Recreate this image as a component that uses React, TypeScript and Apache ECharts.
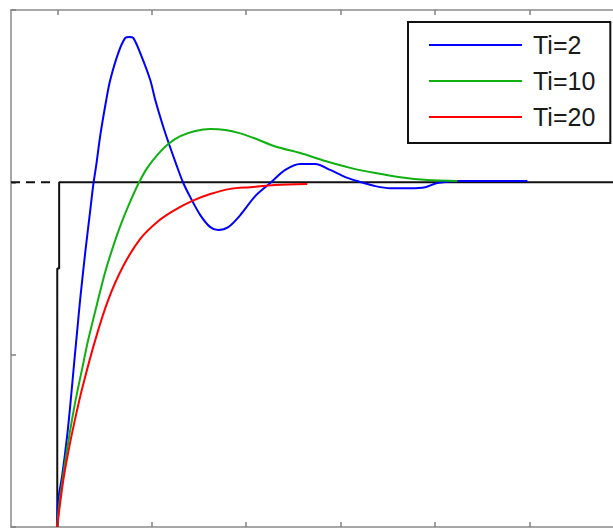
import React, { useEffect, useRef } from "react";
import * as echarts from "echarts";

// Time axis ticks (labels are outside the crop)
const xTicks = [0, 10, 20, 30, 40, 50, 60];
const yTicks = [0, 0.5, 1, 1.5];

// Ti = 2
const tBlue = [0, 0.106, 0.53, 1.06, 1.48, 1.8, 2.12, 2.44, 2.97, 3.5, 3.81, 4.13, 4.56, 5.19, 5.61, 6.46, 7.2, 7.63, 8.05, 8.79, 9.85, 10.38, 11.44, 12.71, 13.35, 14.09, 15.15, 16.21, 17.06, 18.11, 19.39, 20.97, 22.56, 24.15, 25.74, 27.33, 28.92, 30.51, 32.1, 33.69, 35.28, 37.39, 38.98, 40.25, 42.7, 49.8];
const yBlue = [0, 0.078, 0.151, 0.267, 0.383, 0.479, 0.572, 0.664, 0.798, 0.92, 0.992, 1.05, 1.137, 1.239, 1.297, 1.375, 1.419, 1.422, 1.419, 1.375, 1.297, 1.239, 1.143, 1.044, 0.998, 0.957, 0.905, 0.87, 0.862, 0.87, 0.905, 0.96, 0.998, 1.036, 1.053, 1.053, 1.036, 1.015, 1.001, 0.989, 0.983, 0.983, 0.986, 0.998, 1.004, 1.004];

// Ti = 10
const tGreen = [0, 0.21, 0.53, 1.06, 1.59, 2.12, 2.65, 3.28, 4.24, 5.08, 5.93, 6.67, 7.52, 8.58, 9.53, 10.59, 11.76, 13.03, 14.62, 16.21, 17.8, 19.39, 20.97, 23.1, 25.74, 28.39, 31.04, 33.69, 36.33, 39.19, 42.37];
const yGreen = [0, 0.064, 0.131, 0.229, 0.316, 0.392, 0.461, 0.543, 0.65, 0.74, 0.815, 0.873, 0.931, 0.995, 1.042, 1.079, 1.111, 1.134, 1.149, 1.155, 1.152, 1.142, 1.127, 1.104, 1.085, 1.062, 1.042, 1.027, 1.015, 1.007, 1.004];

// Ti = 20
const tRed = [0, 0.21, 0.64, 1.17, 1.8, 2.65, 4.03, 5.4, 6.99, 8.79, 10.59, 12.29, 14.3, 16.21, 18.33, 20.44, 23.09, 26.48];
const yRed = [0, 0.049, 0.136, 0.218, 0.302, 0.403, 0.543, 0.659, 0.757, 0.836, 0.885, 0.917, 0.946, 0.966, 0.981, 0.986, 0.992, 0.995];

// Reference step
const tStep = [0, 0, 0.2, 0.2, 60];
const yStep = [0, 0.75, 0.75, 1, 1];
const tRefBefore = [-4.9, -0.6];
const yRefBefore = [1, 1];

const zip = (t: number[], y: number[]) => t.map((v, i) => [v, y[i]]);

export default function App() {
  const ref = useRef<HTMLDivElement>(null);
  useEffect(() => {
    if (!ref.current) return;
    const chart = echarts.init(ref.current, undefined, { renderer: "svg" });
    const axisLine = { show: true, onZero: false, lineStyle: { color: "#8a8a8a", width: 1.5 } };
    const tick = (vals: number[]) => ({
      show: true,
      inside: true,
      length: 5,
      customValues: vals,
      lineStyle: { color: "#808080", width: 1.5 },
    });
    const xBase = {
      type: "value" as const,
      min: -4.9,
      max: 60,
      axisLine,
      axisTick: tick(xTicks),
      axisLabel: { show: false },
      splitLine: { show: false },
    };
    const yBase = {
      type: "value" as const,
      min: 0,
      max: 1.5,
      axisLine,
      axisTick: tick(yTicks),
      axisLabel: { show: false },
      splitLine: { show: false },
    };
    chart.setOption({
      animation: false,
      backgroundColor: "#ffffff",
      grid: { left: 11, top: 10, right: 16.3, bottom: 1, containLabel: false },
      xAxis: [
        { ...xBase, position: "bottom" },
        { ...xBase, position: "top" },
      ],
      yAxis: [
        { ...yBase, position: "left" },
        { ...yBase, position: "right" },
      ],
      legend: {
        data: ["Ti=2", "Ti=10", "Ti=20"],
        orient: "vertical",
        left: 408,
        top: 22,
        padding: [10, 15, 13, 21],
        icon: "rect",
        itemWidth: 93,
        itemHeight: 2,
        itemGap: 10,
        backgroundColor: "#ffffff",
        borderColor: "#111111",
        borderWidth: 2,
        borderRadius: 0,
        textStyle: {
          fontSize: 25,
          fontFamily: "Liberation Sans, Arial, sans-serif",
          color: "#1a1a1a",
          lineHeight: 26,
          padding: [0, 0, 0, 6],
        },
      },
      series: [
        {
          name: "step",
          type: "line",
          data: zip(tStep, yStep),
          symbol: "none",
          lineStyle: { color: "#111111", width: 2 },
          z: 1,
        },
        {
          name: "stepBefore",
          type: "line",
          data: zip(tRefBefore, yRefBefore),
          symbol: "none",
          lineStyle: { color: "#111111", width: 2, type: [9, 6] },
          z: 1,
        },
        {
          name: "Ti=2",
          type: "line",
          data: zip(tBlue, yBlue),
          symbol: "none",
          smooth: 0.3,
          color: "#0000ff",
          lineStyle: { color: "#0000ff", width: 2 },
          z: 2,
        },
        {
          name: "Ti=10",
          type: "line",
          data: zip(tGreen, yGreen),
          symbol: "none",
          smooth: 0.3,
          color: "#11b011",
          lineStyle: { color: "#11b011", width: 2 },
          z: 3,
        },
        {
          name: "Ti=20",
          type: "line",
          data: zip(tRed, yRed),
          symbol: "none",
          smooth: 0.3,
          color: "#ff0000",
          lineStyle: { color: "#ff0000", width: 2 },
          z: 4,
        },
      ],
    });
    return () => chart.dispose();
  }, []);
  return (
    <div
      ref={ref}
      style={{ position: "fixed", left: 0, top: 0, width: 640, height: 528, background: "#fff" }}
    />
  );
}
